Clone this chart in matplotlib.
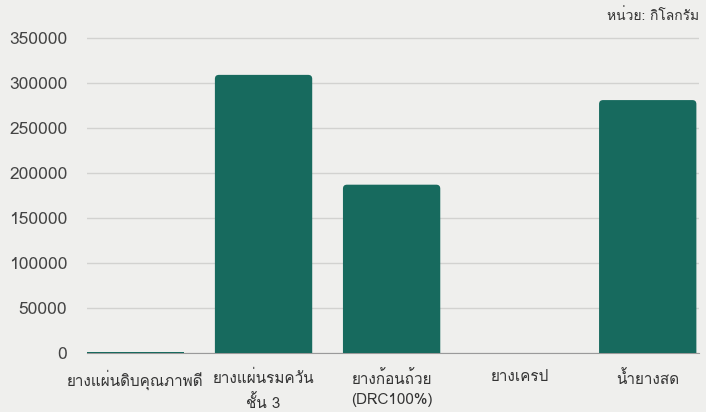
import matplotlib
matplotlib.use("Agg")
import matplotlib.pyplot as plt
from matplotlib import font_manager
from matplotlib.ft2font import FT2Font
from matplotlib.patches import FancyBboxPatch

categories = ["ยางแผ่นดิบคุณภาพดี", "ยางแผ่นรมควัน\nชั้น 3", "ยางก้อนถ้วย\n(DRC100%)", "ยางเครป", "น้ำยางสด"]
values = [1500, 309000, 187000, 0, 281000]
yticks = [0, 50000, 100000, 150000, 200000, 250000, 300000, 350000]
unit_label = "หน่วย: กิโลกรัม"

# find a font that has Thai glyphs
thai_family = None
for f in font_manager.fontManager.ttflist:
    try:
        cm = FT2Font(f.fname).get_charmap()
        if 0x0E22 in cm:
            thai_family = f.name
            break
    except Exception:
        pass
fams = ([thai_family] if thai_family else []) + ["DejaVu Sans"]
plt.rcParams["font.family"] = fams

bg = "#efefed"
bar_color = "#176a5e"
fig = plt.figure(figsize=(7.06, 4.12), dpi=100, facecolor=bg)
ax = fig.add_axes([0.123, 0.1432, 0.867, 0.769], facecolor=bg)
x = list(range(len(categories)))
bars = ax.bar(x, values, width=0.76, color=bar_color, zorder=3)
ax.set_ylim(0, 352000)
ax.set_xlim(-0.38, 4.40)

# round the top corners of the bars
fig.canvas.draw()
px_x = (ax.get_xlim()[1] - ax.get_xlim()[0]) / ax.get_window_extent().width
px_y = (ax.get_ylim()[1] - ax.get_ylim()[0]) / ax.get_window_extent().height
aspect = px_y / px_x
for b in bars:
    h = b.get_height()
    if h <= 0:
        continue
    r = 4 * px_x
    if h / aspect < 3 * r:
        continue
    b.set_visible(False)
    ext = 6 * px_y
    p = FancyBboxPatch((b.get_x(), -ext), b.get_width(), h + ext,
                       boxstyle=f"round,pad=0,rounding_size={r}",
                       mutation_aspect=aspect, facecolor=bar_color,
                       edgecolor="none", zorder=3)
    ax.add_patch(p)

ax.set_yticks(yticks)
ax.set_yticklabels([str(v) for v in yticks], fontsize=12.5, color="#444444")
ax.set_xticks(x)
ax.set_xticklabels(categories, fontsize=11, color="#333333", linespacing=1.55)
ax.grid(axis="y", color="#d2d2d0", linewidth=1, zorder=0)
for s in ["top", "right", "left"]:
    ax.spines[s].set_visible(False)
ax.spines["bottom"].set_color("#9a9a9a")
ax.tick_params(axis="y", length=0, pad=14)
ax.tick_params(axis="x", length=0, pad=12)
fig.text(0.99, 0.962, unit_label, ha="right", va="center", fontsize=10, color="#333333")
fig.savefig("out.png", dpi=100, facecolor=bg)
